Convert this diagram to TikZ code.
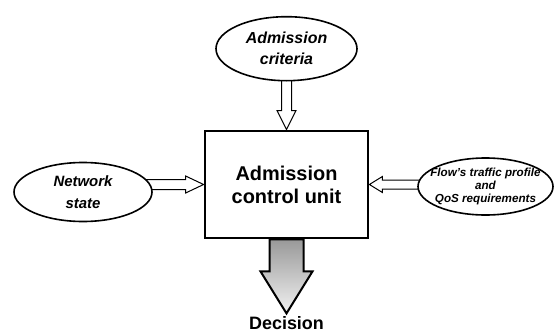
\documentclass[tikz,border=0pt]{standalone}
\usepackage{fontspec}
\setmainfont{Liberation Sans}
\usetikzlibrary{shapes.geometric,calc,backgrounds}
\tikzset{
  oval/.style={ellipse, draw=black, line width=1.6bp, fill=white, inner sep=0pt},
  ovaltext/.style={align=center, inner sep=0pt},
  unit/.style={rectangle, draw=black, line width=2.8bp, fill=white,
    minimum width=163bp, minimum height=107bp, inner sep=0pt, align=center,
    font=\fontsize{20}{23}\selectfont\bfseries},
  hollow/.style={draw=black, line width=1bp, fill=white, line join=miter},
  outarrow/.style={draw=black, line width=2bp, top color=black!40,
    bottom color=black!5, line join=miter},
}
\begin{document}
\begin{tikzpicture}[x=1bp,y=1bp]
\useasboundingbox (0,0) rectangle (559,332);

% central unit
\node[unit] (acu) at (286.5,147.5) {Admission\\control unit};

% inputs
\node[oval, minimum width=141bp, minimum height=64bp,
  label={[ovaltext, font=\fontsize{16}{21}\selectfont\bfseries\itshape]center:{Admission\\criteria}}]
  (crit) at (286.5,283.3) {};
\node[oval, minimum width=138bp, minimum height=59bp,
  label={[ovaltext, font=\fontsize{15}{22}\selectfont\bfseries\itshape]center:{Network\\state}}]
  (net) at (83,140) {};
\node[oval, minimum width=135bp, minimum height=57bp,
  label={[ovaltext, font=\fontsize{11.7}{13.5}\selectfont\bfseries\itshape]center:{Flow’s traffic profile\\and\\QoS requirements}}]
  (flow) at (485.5,145.5) {};

% output label
\node[font=\fontsize{18}{20}\selectfont\bfseries, inner sep=0pt, anchor=base]
  (dec) at (286.5,2.5) {Decision};
\coordinate (tip) at ($(acu.south)+(0,-74)$);

\begin{scope}[on background layer]
  % criteria -> unit
  \draw[hollow] ($(crit.south)+(-5,6)$) -- ($(acu.north)+(-5,19)$)
    -- ($(acu.north)+(-9.5,19)$) -- (acu.north) -- ($(acu.north)+(9.5,19)$)
    -- ($(acu.north)+(5,19)$) -- ($(crit.south)+(5,6)$) -- cycle;
  % network state -> unit
  \draw[hollow] ($(net.east |- acu.west)+(-15,5)$) -- ($(acu.west)+(-18,5)$)
    -- ($(acu.west)+(-18,8.5)$) -- (acu.west) -- ($(acu.west)+(-18,-8.5)$)
    -- ($(acu.west)+(-18,-5)$) -- ($(net.east |- acu.west)+(-15,-5)$) -- cycle;
  % flow profile -> unit
  \draw[hollow] ($(flow.west |- acu.east)+(8,4.5)$) -- ($(acu.east)+(13,4.5)$)
    -- ($(acu.east)+(13,8)$) -- (acu.east) -- ($(acu.east)+(13,-8)$)
    -- ($(acu.east)+(13,-4.5)$) -- ($(flow.west |- acu.east)+(8,-4.5)$) -- cycle;
  % unit -> decision
  \draw[outarrow] ($(acu.south)+(-17,0)$) -- ($(acu.south)+(-17,-32)$)
    -- ($(acu.south)+(-26,-32)$) -- (tip) -- ($(acu.south)+(26,-32)$)
    -- ($(acu.south)+(17,-32)$) -- ($(acu.south)+(17,0)$) -- cycle;
\end{scope}
\end{tikzpicture}
\end{document}
